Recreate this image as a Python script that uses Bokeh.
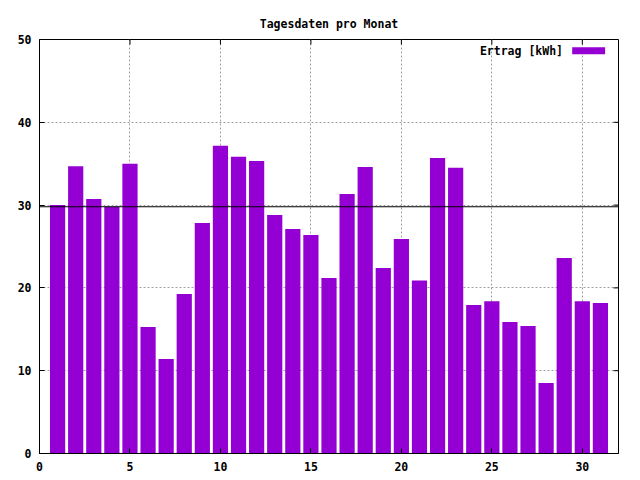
import math
from bokeh.plotting import figure
from bokeh.models import FixedTicker, Span, Label, BoxAnnotation, ColumnDataSource, Range1d
from bokeh.embed import file_html
from bokeh.resources import INLINE

# ---- data ----
tage = list(range(1, 32))
ertrag = [30.0, 34.7, 30.75, 29.8, 35.0, 15.27, 11.4, 19.26, 27.85, 37.16,
          35.83, 35.34, 28.8, 27.1, 26.4, 21.2, 31.35, 34.6, 22.4, 25.9,
          20.9, 35.7, 34.5, 17.93, 18.4, 15.88, 15.4, 8.5, 23.6, 18.4, 18.17]
ziel = 29.8
x_ticks = [0, 5, 10, 15, 20, 25, 30]
y_ticks = [0, 10, 20, 30, 40, 50]
x_min, x_max = 0, 32
y_min, y_max = 0, 50
title_text = "Tagesdaten pro Monat"
legend_text = "Ertrag [kWh]"

BAR = "#9400D3"
FONT = "DejaVu Sans Mono"
FS = "11.5px"

p = figure(frame_width=579, frame_height=414,
           x_range=Range1d(x_min, x_max), y_range=Range1d(y_min, y_max),
           output_backend="svg", toolbar_location=None,
           min_border_left=39, min_border_top=39, min_border_right=22, min_border_bottom=27,
           title=title_text)
p.background_fill_color = "white"
p.border_fill_color = "white"
p.outline_line_color = "black"
p.outline_line_width = 1

p.title.align = "center"
p.title.text_font = FONT
p.title.text_font_size = FS
p.title.text_font_style = "bold"
p.title.text_color = "black"
p.title.standoff = 17

src = ColumnDataSource(dict(tag=tage, wert=ertrag))
p.vbar(x="tag", top="wert", width=0.84, source=src, fill_color=BAR, line_color=None)

# grid
for g in p.xgrid + p.ygrid:
    g.grid_line_color = "#a0a0a0"
    g.grid_line_dash = "2 2"
    g.grid_line_width = 1
p.xgrid.ticker = FixedTicker(ticks=x_ticks)
p.ygrid.ticker = FixedTicker(ticks=y_ticks)

def style_axis(ax, ticks, standoff=8):
    ax.ticker = FixedTicker(ticks=ticks)
    ax.minor_tick_line_color = None
    ax.major_tick_in = 5
    ax.major_tick_out = 0
    ax.major_tick_line_color = "black"
    ax.axis_line_color = "black"
    ax.major_label_text_font = FONT
    ax.major_label_text_font_size = FS
    ax.major_label_text_font_style = "bold"
    ax.major_label_text_color = "black"
    ax.major_label_standoff = standoff

style_axis(p.xaxis[0], x_ticks, standoff=8)
style_axis(p.yaxis[0], y_ticks, standoff=8)

# mirrored ticks on top and right border (gnuplot style)
p.ray(x=x_ticks, y=[y_max] * len(x_ticks), length=5, length_units="screen",
      angle=-math.pi / 2, line_color="black", line_width=1)
p.ray(x=[x_max] * len(y_ticks), y=y_ticks, length=5, length_units="screen",
      angle=math.pi, line_color="black", line_width=1)

# reference line
p.add_layout(Span(location=ziel, dimension="width", line_color="black", line_width=1))

# legend (gnuplot style: text left of the key)
p.add_layout(Label(x=x_max, y=y_max, x_offset=-55.5, y_offset=-11.5, text=legend_text,
                   text_align="right", text_baseline="middle", text_font=FONT,
                   text_font_size=FS, text_font_style="bold", text_color="black"))
p.add_layout(BoxAnnotation(left=29.44, right=31.26, bottom=48.22, top=49.07,
                           fill_color=BAR, fill_alpha=1, line_color=None))

open("out.html", "w").write(file_html(p, INLINE))
